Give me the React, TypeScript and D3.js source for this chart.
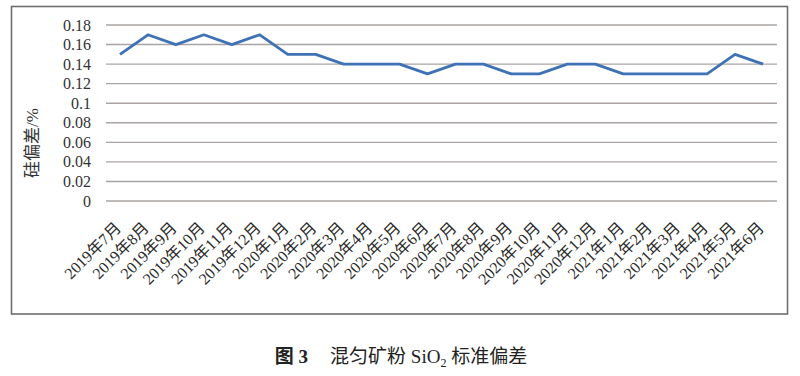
import React from "react";
import * as d3 from "d3";

const categories = [
  "2019年7月", "2019年8月", "2019年9月", "2019年10月", "2019年11月", "2019年12月",
  "2020年1月", "2020年2月", "2020年3月", "2020年4月", "2020年5月", "2020年6月",
  "2020年7月", "2020年8月", "2020年9月", "2020年10月", "2020年11月", "2020年12月",
  "2021年1月", "2021年2月", "2021年3月", "2021年4月", "2021年5月", "2021年6月",
];
const values = [
  0.15, 0.17, 0.16, 0.17, 0.16, 0.17,
  0.15, 0.15, 0.14, 0.14, 0.14, 0.13,
  0.14, 0.14, 0.13, 0.13, 0.14, 0.14,
  0.13, 0.13, 0.13, 0.13, 0.15, 0.14,
];
const yTicks = [0, 0.02, 0.04, 0.06, 0.08, 0.1, 0.12, 0.14, 0.16, 0.18];
const yTitle = "硅偏差/%";
const caption = ["图 3", "混匀矿粉 SiO", "2", " 标准偏差"];

const W = 800;
const H = 376;
const FONT = "Liberation Serif, Times New Roman, DejaVu Serif, Noto Sans CJK SC, serif";

export default function App() {
  const x = d3.scaleBand<string>().domain(categories).range([106, 777]);
  const y = d3.scaleLinear().domain([0, 0.18]).range([201, 25]);
  const line = d3
    .line<number>()
    .x((_, i) => (x(categories[i]) as number) + x.bandwidth() / 2)
    .y((d) => y(d));

  return (
    <svg
      width={W}
      height={H}
      style={{ position: "absolute", left: 0, top: 0, background: "#fff", fontFamily: FONT }}
    >
      <rect x={0} y={0} width={W} height={H} fill="#fff" />
      <rect x={11.5} y={6.5} width={776} height={307.5} fill="#fff" stroke="#6e6e6e" strokeWidth={1.6} />
      {yTicks.map((t) => (
        <g key={t}>
          <line x1={106} x2={777} y1={y(t)} y2={y(t)} stroke="#a9a4a2" strokeWidth={1.4} />
          <text x={91} y={y(t)} dy="0.35em" textAnchor="end" fontSize={16} fill="#333" style={{ fontFamily: FONT }}>
            {String(t)}
          </text>
        </g>
      ))}
      <path d={line(values) || ""} fill="none" stroke="#3e72b4" strokeWidth={2.8} strokeLinejoin="round" />
      {categories.map((c) => {
        const cx = (x(c) as number) + x.bandwidth() / 2;
        return (
          <text
            key={c}
            transform={`translate(${cx + 2},${229}) rotate(-45)`}
            textAnchor="end"
            fontSize={16}
            fill="#2a2a2a"
            style={{ fontFamily: FONT }}
          >
            {c}
          </text>
        );
      })}
      <text
        transform={`translate(${38},${143}) rotate(-90)`}
        textAnchor="middle"
        fontSize={17}
        fill="#333"
        style={{ fontFamily: FONT }}
      >
        {yTitle}
      </text>
      <text x={401} y={363} textAnchor="middle" fontSize={19} fill="#222" style={{ fontFamily: FONT }}>
        <tspan fontWeight="bold">{caption[0]}</tspan>
        <tspan dx={22}>{caption[1]}</tspan>
        <tspan fontSize={12} dy={4}>{caption[2]}</tspan>
        <tspan dy={-4}>{caption[3]}</tspan>
      </text>
    </svg>
  );
}
